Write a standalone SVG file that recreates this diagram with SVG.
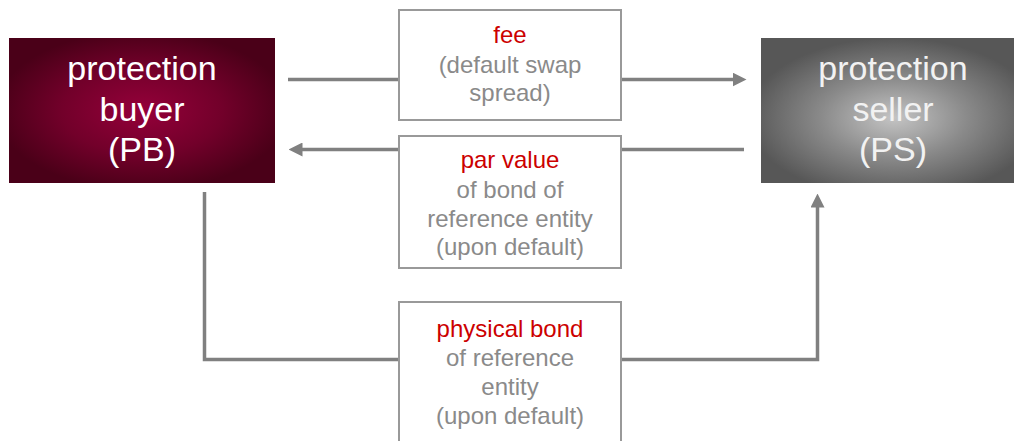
<svg xmlns="http://www.w3.org/2000/svg" width="1014" height="441" viewBox="0 0 1014 441">
<defs>
<radialGradient id="gPB" cx="0.5" cy="0.5" r="0.55">
<stop offset="0" stop-color="#95003a"/>
<stop offset="0.55" stop-color="#72002a"/>
<stop offset="1" stop-color="#4a0018"/>
</radialGradient>
<radialGradient id="gPS" cx="0.5" cy="0.55" r="0.55">
<stop offset="0" stop-color="#c4c4c4"/>
<stop offset="0.5" stop-color="#8a8a8a"/>
<stop offset="1" stop-color="#575757"/>
</radialGradient>
<marker id="ah" viewBox="0 0 14 14" refX="0.5" refY="7" markerWidth="14" markerHeight="14" markerUnits="userSpaceOnUse" orient="auto">
<path d="M0,0 L14,7 L0,14 Z" fill="#808080"/>
</marker>
<style>
.big{font-family:"Liberation Sans",Arial,sans-serif;font-size:34px;text-anchor:middle}
.lbl{font-family:"Liberation Sans",Arial,sans-serif;font-size:24px;text-anchor:middle;fill:#8a8a8a}
.red{fill:#cc0000}
.conn{fill:none;stroke:#808080;stroke-width:3.5}
.box{fill:#ffffff;stroke:#999999;stroke-width:2}
</style>
</defs>
<g id="connectors">
<path class="conn" d="M288,79.5 H733" marker-end="url(#ah)"/>
<path class="conn" d="M744,149.5 H302" marker-end="url(#ah)"/>
<path class="conn" d="M204.5,192 V359.5 H817.5 V207" marker-end="url(#ah)"/>
</g>
<g id="PB">
<rect x="9" y="38" width="266" height="145" fill="url(#gPB)"/>
<text class="big" fill="#ffffff"><tspan x="142" y="80">protection</tspan><tspan x="142" y="121">buyer</tspan><tspan x="142" y="161">(PB)</tspan></text>
</g>
<g id="PS">
<rect x="761" y="38" width="266" height="145" fill="url(#gPS)"/>
<text class="big" fill="#f2f2f2"><tspan x="893" y="80">protection</tspan><tspan x="893" y="121">seller</tspan><tspan x="893" y="161">(PS)</tspan></text>
</g>
<g id="fee">
<rect class="box" x="399" y="10" width="222" height="110"/>
<text class="lbl"><tspan class="red" x="510" y="43">fee</tspan><tspan x="510" y="72.5">(default swap</tspan><tspan x="510" y="101">spread)</tspan></text>
</g>
<g id="par">
<rect class="box" x="399" y="136" width="222" height="132"/>
<text class="lbl"><tspan class="red" x="510" y="168">par value</tspan><tspan x="510" y="197.5">of bond of</tspan><tspan x="510" y="226.5">reference entity</tspan><tspan x="510" y="255">(upon default)</tspan></text>
</g>
<g id="physical">
<rect class="box" x="399" y="302" width="222" height="150"/>
<text class="lbl"><tspan class="red" x="510" y="336.5">physical bond</tspan><tspan x="510" y="366">of reference</tspan><tspan x="510" y="395">entity</tspan><tspan x="510" y="423.5">(upon default)</tspan></text>
</g>
</svg>
